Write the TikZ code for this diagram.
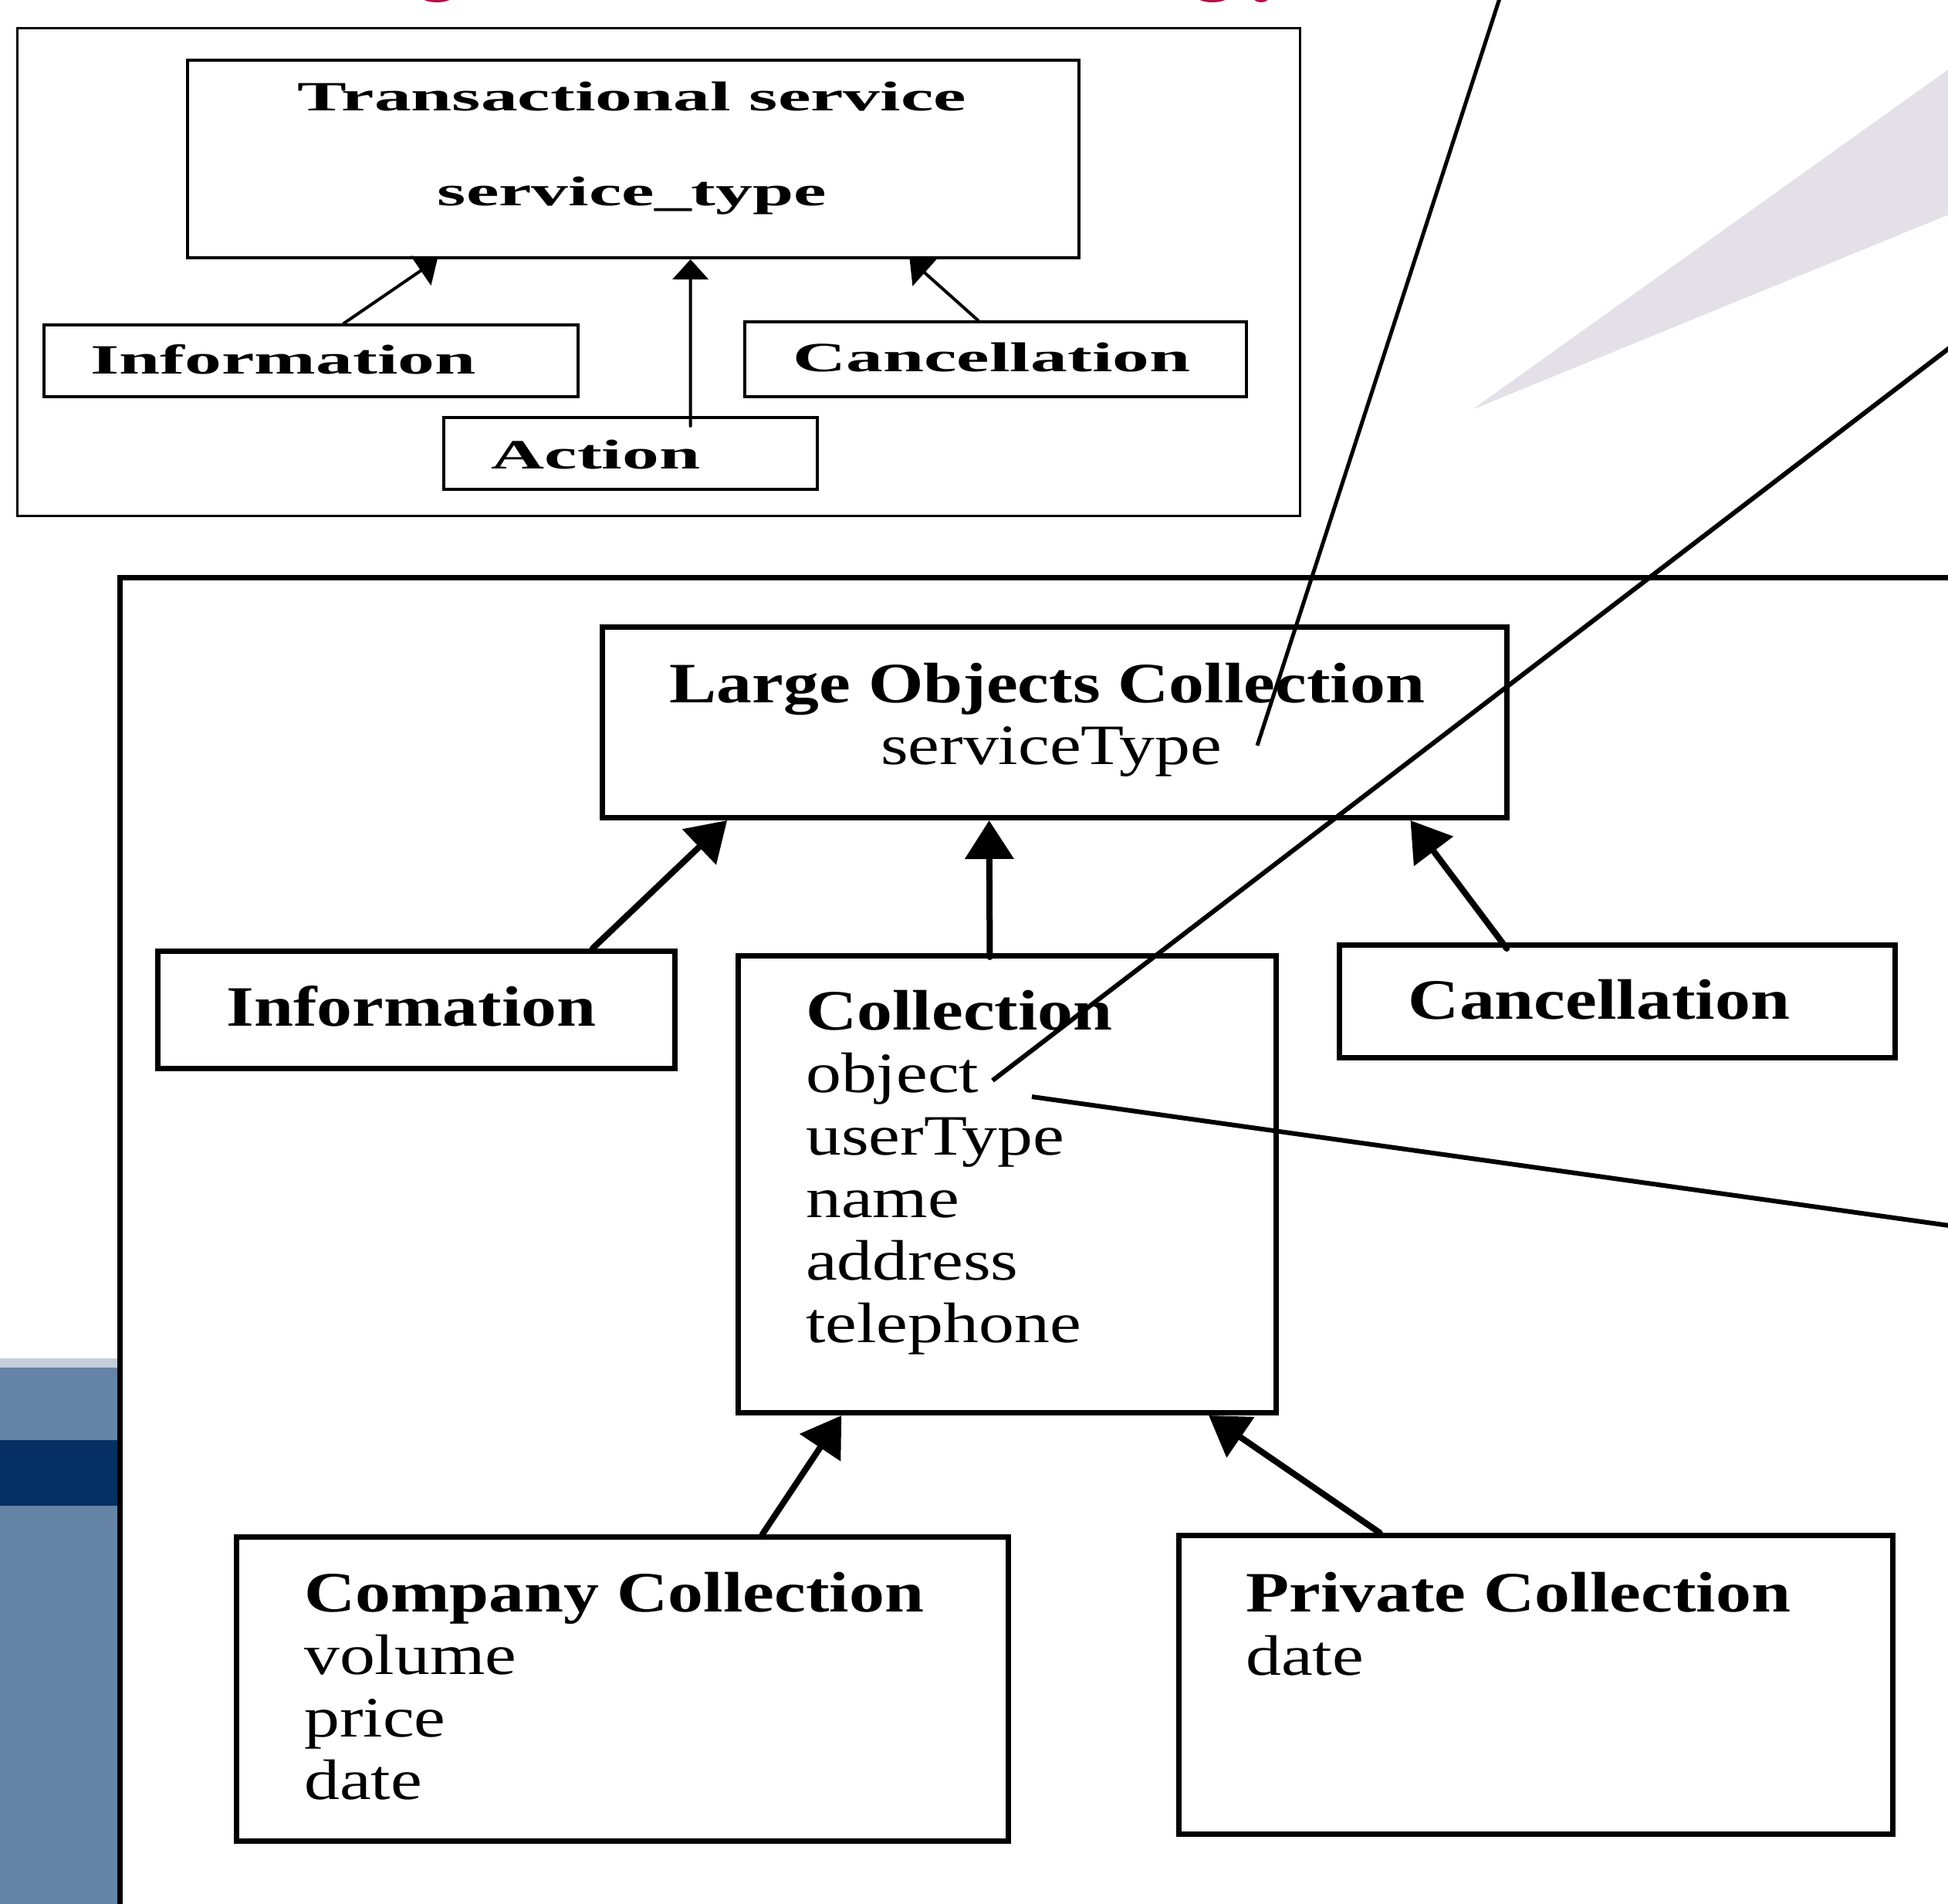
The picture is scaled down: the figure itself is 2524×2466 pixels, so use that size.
\documentclass[tikz,border=0pt]{standalone}
\usepackage{fontspec}
\usetikzlibrary{arrows.meta,calc}

\newfontfamily\topserif[FakeStretch=1.77]{Liberation Serif}
\newfontfamily\lowserif[FakeStretch=1.24]{Liberation Serif}

\definecolor{titlepink}{RGB}{176,16,74}
\definecolor{wedgegray}{RGB}{227,225,231}
\definecolor{bandlight}{RGB}{196,205,218}
\definecolor{bandmid}{RGB}{102,131,168}
\definecolor{banddark}{RGB}{5,48,99}

\tikzset{
  topbox/.style={draw, line width=4pt, anchor=north west, inner sep=0pt},
  lowbox/.style={draw, line width=7pt, anchor=north west, inner sep=0pt},
  toplabel/.style={anchor=base, inner sep=0pt, font=\topserif\fontsize{54}{60}\selectfont\bfseries},
  lowtitle/.style={inner sep=0pt, font=\lowserif\fontsize{74}{81}\selectfont\bfseries},
  lowattr/.style={anchor=base west, inner sep=0pt, font=\lowserif\fontsize{74}{81}\selectfont},
  toparrow/.style={-{Triangle[length=26pt,width=46pt]}, line width=4pt, line cap=round},
  lowarrow/.style={-{Triangle[length=50pt,width=62pt]}, line width=8pt, line cap=round},
  pointer/.style={line width=6pt}
}

\begin{document}
\begin{tikzpicture}[x=1pt,y=-1pt]
  \useasboundingbox (0,0) rectangle (2524,2466);
  \clip (0,0) rectangle (2524,2466);

  % slide background bits
  \fill[titlepink] (566,-5) ellipse (21pt and 8pt);
  \fill[titlepink] (1571,-5) ellipse (21pt and 8pt);
  \fill[titlepink] (1634,-5) ellipse (11pt and 8pt);
  \fill[wedgegray, rounded corners=6pt] (1907,531) -- (2530,86) -- (2530,276) -- cycle;
  \fill[bandlight] (0,1760) rectangle (155,1772);
  \fill[bandmid] (0,1772) rectangle (155,2470);
  \fill[banddark] (0,1866) rectangle (155,1951);

  % upper diagram
  \draw[line width=3pt] (22,36) rectangle (1684,668);
  \node[topbox, minimum width=1155pt, minimum height=256pt] (trans) at (241,76) {};
  \node[topbox, minimum width=692pt, minimum height=93pt] (tinfo) at (55,419) {};
  \node[topbox, minimum width=650pt, minimum height=97pt] (tcanc) at (963,415) {};
  \node[topbox, minimum width=484pt, minimum height=93pt] (tact) at (573,539) {};

  \node[toplabel] (transname) at (819,143) {Transactional service};
  \node[toplabel] (transattr) at (819,266) {service\_type};
  \node[toplabel] (tinfoname) at (367,484) {Information};
  \node[toplabel] (tcancname) at (1285,481) {Cancellation};
  \node[toplabel] (tactname) at (772,607) {Action};

  \draw[toparrow] ($(tinfo.north west)!0.561!(tinfo.north east)$) -- ($(trans.south west)!0.281!(trans.south east)$);
  \draw[toparrow] ($(tact.north west)!0.659!(tact.north east)+(0,13)$) -- ($(trans.south west)!0.564!(trans.south east)$);
  \draw[toparrow] ($(tcanc.north west)!0.465!(tcanc.north east)$) -- ($(trans.south west)!0.809!(trans.south east)$);

  % lower diagram
  \draw[line width=7pt] (2540,748) -- (155,748) -- (155,2480);
  \node[lowbox, minimum width=1172pt, minimum height=247pt] (loc) at (777,809) {};
  \node[lowbox, minimum width=670pt, minimum height=152pt] (info) at (201,1229) {};
  \node[lowbox, minimum width=697pt, minimum height=592pt] (coll) at (953,1235) {};
  \node[lowbox, minimum width=720pt, minimum height=146pt] (canc) at (1732,1221) {};
  \node[lowbox, minimum width=1000pt, minimum height=394pt] (comp) at (303,1988) {};
  \node[lowbox, minimum width=925pt, minimum height=387pt] (priv) at (1524,1986) {};

  \node[lowtitle, anchor=base] (locname) at (1357,910) {Large Objects Collection};
  \node[lowattr, anchor=base] (servtype) at (1362,990) {serviceType};
  \node[lowtitle, anchor=base] (infoname) at (533,1329) {Information};
  \node[lowtitle, anchor=base] (cancname) at (2072,1320) {Cancellation};

  \node[lowtitle, anchor=base west] (collname) at (1044,1334) {Collection};
  \foreach \attr [count=\i] in {object,userType,name,address,telephone}
    \node[lowattr] (coll-\i) at (1044,{1334+81*\i}) {\attr};

  \node[lowtitle, anchor=base west] (compname) at (394,2088) {Company Collection};
  \foreach \attr [count=\i] in {volume,price,date}
    \node[lowattr] (comp-\i) at (394,{2088+81*\i}) {\attr};

  \node[lowtitle, anchor=base west] (privname) at (1614,2088) {Private Collection};
  \node[lowattr] (priv-1) at (1614,2170) {date};

  \draw[lowarrow] ($(info.north west)!0.837!(info.north east)$) -- ($(loc.south west)!0.140!(loc.south east)$);
  \draw[lowarrow] ($(coll.north west)!0.468!(coll.north east)+(0,5)$) -- ($(loc.south west)!0.428!(loc.south east)$);
  \draw[lowarrow] ($(canc.north west)!0.303!(canc.north east)+(0,8)$) -- ($(loc.south west)!0.891!(loc.south east)$);
  \draw[lowarrow] ($(comp.north west)!0.680!(comp.north east)$) -- ($(coll.south west)!0.195!(coll.south east)$);
  \draw[lowarrow] ($(priv.north west)!0.283!(priv.north east)$) -- ($(coll.south west)!0.871!(coll.south east)$);

  % pointers from outside the picture
  \coordinate (ptop) at (1943,-2);
  \coordinate (pservtype) at (1629,966);
  \coordinate (pright) at (2540,440);
  \coordinate (pobject) at (1286,1400);
  \coordinate (puser) at (1337,1421);
  \coordinate (pfar) at (2540,1590);
  \draw[line width=5pt] (ptop) -- (pservtype);
  \draw[pointer] (pright) -- (pobject);
  \draw[pointer] (puser) -- (pfar);
\end{tikzpicture}
\end{document}
